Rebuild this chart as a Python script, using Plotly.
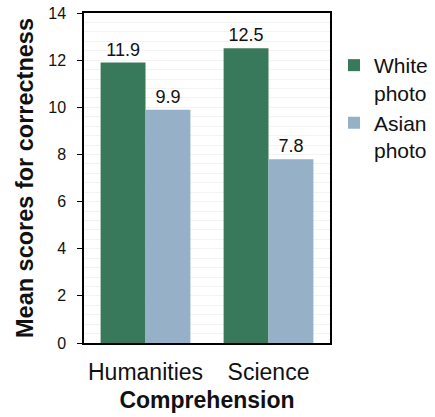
import plotly.graph_objects as go

# Mean correctness scores by comprehension type and photo condition
categories = ["Humanities", "Science"]
white_photo = [11.9, 12.5]
asian_photo = [9.9, 7.8]
series_names = ["White<br>photo", "Asian<br>photo"]
y_ticks = [0, 2, 4, 6, 8, 10, 12, 14]

FONT = "Liberation Sans, Arial, sans-serif"
GREEN = "#38785b"
BLUE = "#96b1c7"

fig = go.Figure()
for name, vals, color in [(series_names[0], white_photo, GREEN),
                          (series_names[1], asian_photo, BLUE)]:
    fig.add_trace(go.Bar(
        x=categories, y=vals, name=name,
        marker=dict(color=color, line=dict(width=0)),
        text=[f"{v:.1f}" for v in vals],
        textposition="outside",
        textfont=dict(family=FONT, size=18, color="#111111"),
        cliponaxis=False,
    ))

fig.update_layout(
    width=435, height=417,
    margin=dict(l=84, r=105, t=13, b=74, autoexpand=False),
    paper_bgcolor="white", plot_bgcolor="white",
    barmode="group", bargap=0.27, bargroupgap=0,
    font=dict(family=FONT, color="#111111"),
    legend=dict(
        x=334 / 435, xanchor="left", xref="container",
        y=1 - 45 / 417, yanchor="top", yref="container",
        font=dict(family=FONT, size=21, color="#111111"),
        valign="top", tracegroupgap=0, itemwidth=30,
        bgcolor="rgba(0,0,0,0)",
    ),
)

fig.update_xaxes(
    showline=True, linecolor="black", linewidth=1.5, mirror=True,
    ticks="", ticklabelstandoff=8,
    tickfont=dict(family=FONT, size=23, color="#111111"),
    title=dict(text="<b>Comprehension</b>", standoff=8,
               font=dict(family=FONT, size=23, color="#111111")),
)
fig.update_yaxes(
    range=[0, 14], tickvals=y_ticks,
    showline=True, linecolor="black", linewidth=1.5, mirror=True,
    ticks="outside", ticklen=5, tickcolor="black", ticklabelstandoff=8,
    tickfont=dict(family=FONT, size=16, color="#111111"),
    showgrid=False, zeroline=False,
    minor=dict(dtick=0.4, tick0=0, showgrid=True, gridcolor="#f3f3f3", gridwidth=1),
    title=dict(text="<b>Mean scores for correctness</b>", standoff=8,
               font=dict(family=FONT, size=23.5, color="#111111")),
)

fig.write_html("out.html")
